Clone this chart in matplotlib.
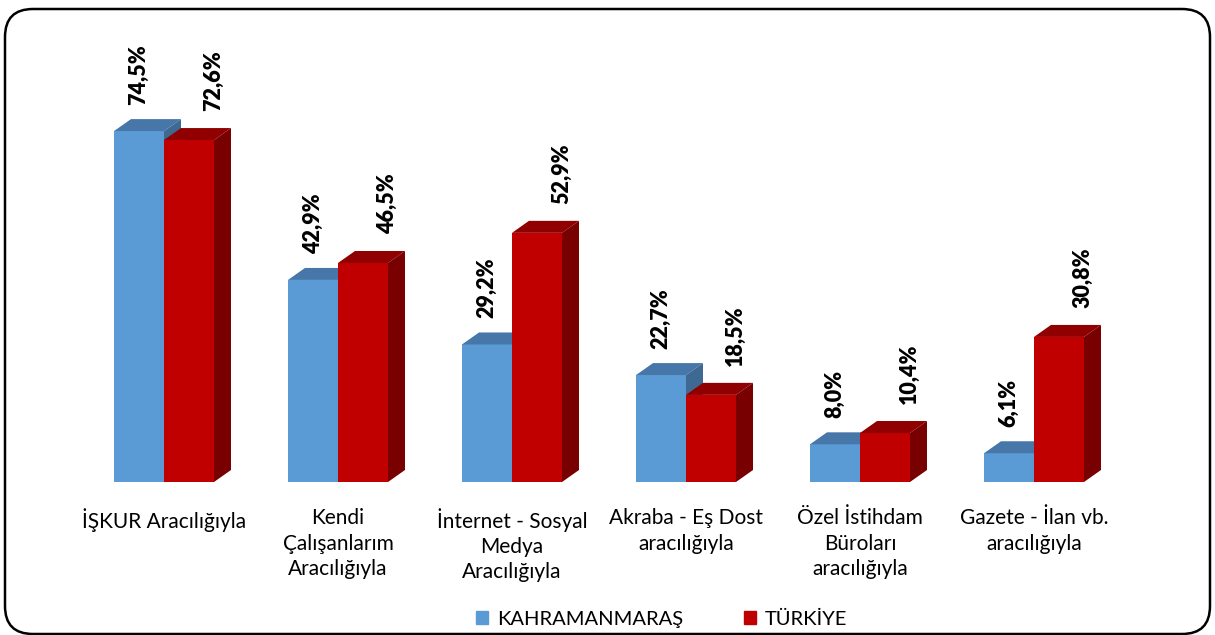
import matplotlib.pyplot as plt
from matplotlib.patches import Polygon, Patch, FancyBboxPatch

categories = ["İŞKUR Aracılığıyla",
              "Kendi\nÇalışanlarım\nAracılığıyla",
              "İnternet - Sosyal\nMedya\nAracılığıyla",
              "Akraba - Eş Dost\naracılığıyla",
              "Özel İstihdam\nBüroları\naracılığıyla",
              "Gazete - İlan vb.\naracılığıyla"]
kahramanmaras = [74.5, 42.9, 29.2, 22.7, 8.0, 6.1]
turkiye = [72.6, 46.5, 52.9, 18.5, 10.4, 30.8]
series_names = ["KAHRAMANMARAŞ", "TÜRKİYE"]

plt.rcParams['font.family'] = ['Lato', 'DejaVu Sans']

# front / top / side colours for the fake 3d look
blue = ("#5B9BD5", "#4677A8", "#3E6992")
red = ("#C00000", "#900000", "#780000")

W, H = 1215, 635
fig = plt.figure(figsize=(W / 100, H / 100), dpi=100)

# rounded frame
bg = fig.add_axes([0, 0, 1, 1])
bg.set_xlim(0, W)
bg.set_ylim(0, H)
bg.axis('off')
bg.add_patch(FancyBboxPatch((5, 1), W - 10, H - 10,
                            boxstyle="round,pad=0,rounding_size=28",
                            fc='white', ec='black', lw=1.8))

# axes: category i pair centre at 164 + 174*i px, baseline at y=482 px
ppu_x = 174.0
ppu_y = 4.71
x0, x1 = 60, 1150
ybot, ytop = 482, 30
ax = fig.add_axes([x0 / W, (H - ybot) / H, (x1 - x0) / W, (ybot - ytop) / H])
ax.set_xlim(-(164 - x0) / ppu_x, 5 + (x1 - 164 - 5 * ppu_x) / ppu_x)
ax.set_ylim(0, (ybot - ytop) / ppu_y)
ax.axis('off')

w = 50 / ppu_x
dx = 17 / ppu_x
dy = 12 / ppu_y


def bar3d(left, v, cols):
    ax.bar(left, v, width=w, align='edge', color=cols[0], zorder=2)
    top = [(left, v), (left + dx, v + dy), (left + w + dx, v + dy), (left + w, v)]
    side = [(left + w, 0), (left + w + dx, dy), (left + w + dx, v + dy), (left + w, v)]
    ax.add_patch(Polygon(top, closed=True, fc=cols[1], ec='none', zorder=2))
    ax.add_patch(Polygon(side, closed=True, fc=cols[2], ec='none', zorder=2))


for i, (a, b) in enumerate(zip(kahramanmaras, turkiye)):
    bar3d(i - w, a, blue)
    bar3d(i, b, red)
    ax.annotate(f"{a:.1f}".replace('.', ',') + "%", (i - w / 2, a),
                xytext=(0, 19), textcoords='offset points', rotation=90,
                ha='center', va='bottom', fontsize=15.5, fontweight='heavy')
    ax.annotate(f"{b:.1f}".replace('.', ',') + "%", (i + w / 2 + 0.14, b),
                xytext=(0, 21), textcoords='offset points', rotation=90,
                ha='center', va='bottom', fontsize=15.5, fontweight='heavy')
    ax.annotate(categories[i], (i, 0), xytext=(0, -19), textcoords='offset points',
                ha='center', va='top', fontsize=15, color='black',
                linespacing=1.32, annotation_clip=False)

handles = [Patch(color=blue[0]), Patch(color=red[0])]
fig.legend(handles, series_names, loc='center',
           bbox_to_anchor=(0.5 + 54 / W, (H - 619) / H),
           ncol=2, frameon=False, fontsize=14.5, handlelength=0.6, handleheight=0.6,
           handletextpad=0.45, columnspacing=3.0)

fig.savefig("out.png", dpi=100)
